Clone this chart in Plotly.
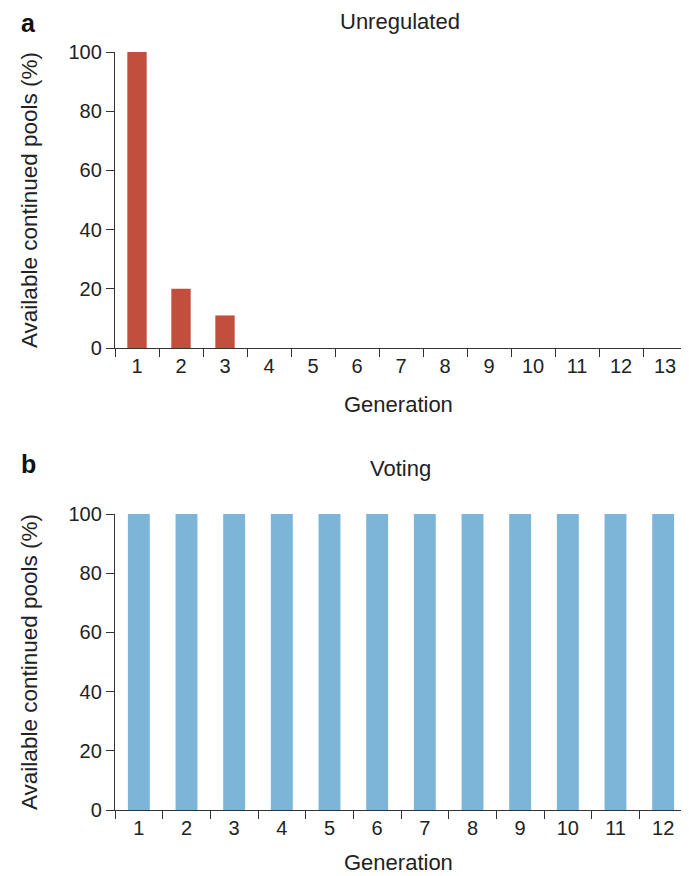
import plotly.graph_objects as go

gen_a = [str(i) for i in range(1, 14)]
vals_a = [100, 20, 11, 0, 0, 0, 0, 0, 0, 0, 0, 0, 0]
gen_b = [str(i) for i in range(1, 13)]
vals_b = [100] * 12
y_ticks = [0, 20, 40, 60, 80, 100]

OFF = 8  # page body offset
W, H = 689 - OFF, 876 - OFF
def px(p):
    return (p - OFF) / W
def py(p):
    return 1 - (p - OFF) / H

FONT = "Liberation Sans, Arial, Helvetica, sans-serif"
AX = "#333333"
RED = "#C24E3D"
BLUE = "#7DB5D9"

fig = go.Figure()
fig.add_trace(go.Bar(x=gen_a, y=vals_a, marker=dict(color=RED, line=dict(width=0)),
                     width=0.44, xaxis="x", yaxis="y", showlegend=False))
fig.add_trace(go.Bar(x=gen_b, y=vals_b, marker=dict(color=BLUE, line=dict(width=0)),
                     width=0.46, xaxis="x2", yaxis="y2", showlegend=False))

xd = [px(115), px(687)]
common_x = dict(type="category", showline=True, linecolor=AX, linewidth=1.3,
                ticks="outside", ticklen=8, tickcolor=AX, tickwidth=1.3,
                tickson="boundaries", showgrid=False, zeroline=False, automargin=False,
                tickfont=dict(family=FONT, size=20, color="#222"), fixedrange=True)
common_y = dict(range=[0, 100], tickvals=y_ticks, showline=True, linecolor=AX, linewidth=1.3,
                ticks="outside", ticklen=8, tickcolor=AX, tickwidth=1.3,
                showgrid=False, zeroline=False, automargin=False,
                tickfont=dict(family=FONT, size=20, color="#222"), fixedrange=True)

fig.update_layout(
    width=W, height=H, autosize=False, margin=dict(l=0, r=0, t=0, b=0, autoexpand=False),
    paper_bgcolor="white", plot_bgcolor="white",
    font=dict(family=FONT, size=20, color="#222"),
    xaxis=dict(domain=xd, anchor="y", range=[-0.5, 12.5], **common_x),
    yaxis=dict(domain=[py(348), py(52)], anchor="x", **common_y),
    xaxis2=dict(domain=xd, anchor="y2", range=[-0.5, 11.5], **common_x),
    yaxis2=dict(domain=[py(810), py(514)], anchor="x2", **common_y),
)

ann = [
    dict(text="<b>a</b>", x=px(28), y=1, yanchor="top", font=dict(size=25, color="#111")),
    dict(text="<b>b</b>", x=px(28), y=py(464), font=dict(size=25, color="#111")),
    dict(text="Unregulated", x=px(400), y=1, yanchor="top", font=dict(size=22)),
    dict(text="Voting", x=px(400), y=py(468), font=dict(size=22)),
    dict(text="Generation", x=px(398), y=py(404), font=dict(size=22)),
    dict(text="Generation", x=px(398), y=0, yanchor="bottom", font=dict(size=22)),
    dict(text="Available continued pools (%)", x=px(29), y=py(200), textangle=-90, font=dict(size=22.5)),
    dict(text="Available continued pools (%)", x=px(29), y=py(662), textangle=-90, font=dict(size=22.5)),
]
for a in ann:
    a["font"].setdefault("family", FONT)
    a["font"].setdefault("color", "#222")
    a.setdefault("xanchor", "center")
    a.setdefault("yanchor", "middle")
    fig.add_annotation(xref="paper", yref="paper", showarrow=False, borderpad=0, **a)

fig.write_html("out.html")
